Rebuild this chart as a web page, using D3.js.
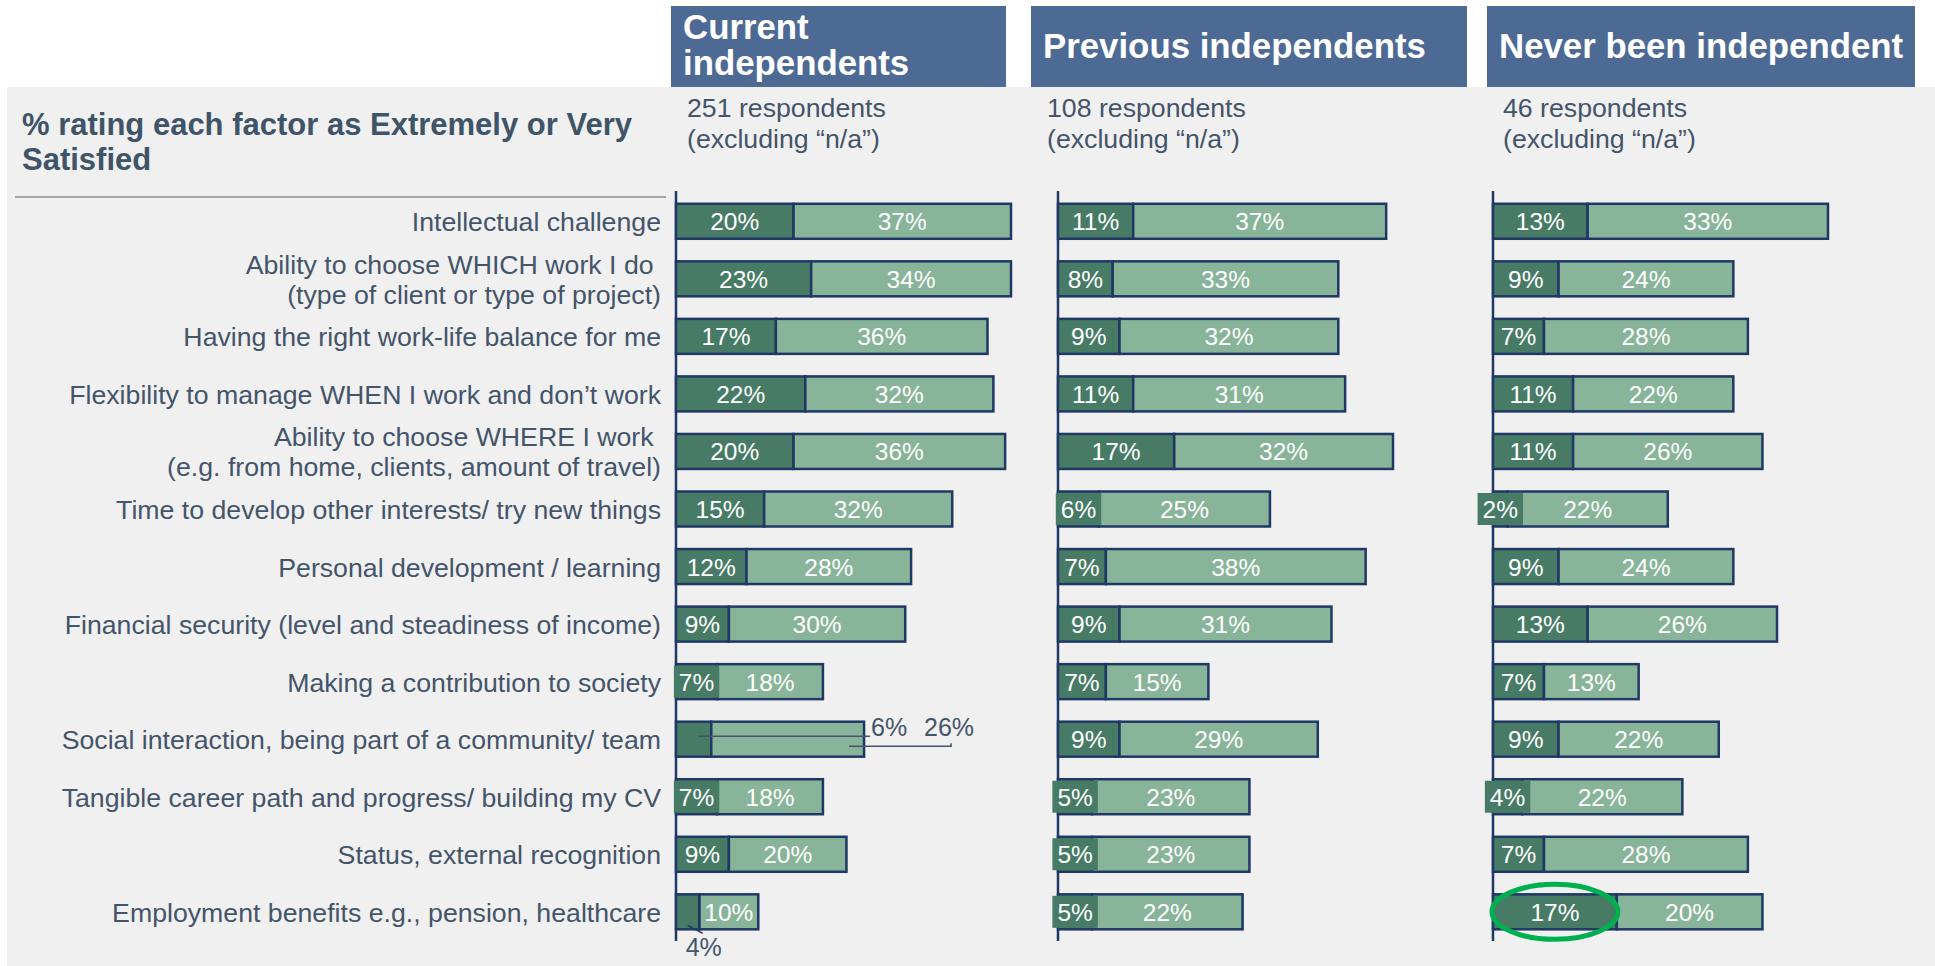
<!DOCTYPE html>
<html>
<head>
<meta charset="utf-8">
<script src="https://cdn.jsdelivr.net/npm/d3@7"></script>
<style>
  body { margin: 0; background: #fff; }
  text { font-family: "Liberation Sans", Arial, sans-serif; }
</style>
</head>
<body>
<svg id="chart"></svg>
<script>
// Data
// ===========================
var categories = [
  "Intellectual challenge",
  "Ability to choose WHICH work I do \n(type of client or type of project)",
  "Having the right work-life balance for me",
  "Flexibility to manage WHEN I work and don\u2019t work",
  "Ability to choose WHERE I work \n(e.g. from home, clients, amount of travel)",
  "Time to develop other interests/ try new things",
  "Personal development / learning",
  "Financial security (level and steadiness of income)",
  "Making a contribution to society",
  "Social interaction, being part of a community/ team",
  "Tangible career path and progress/ building my CV",
  "Status, external recognition",
  "Employment benefits e.g., pension, healthcare"
];

var groups = ["Current independents", "Previous independents", "Never been independent"];
var respondents = [251, 108, 46];

// dark = Extremely satisfied, light = Very satisfied
var currentExtremely  = [20, 23, 17, 22, 20, 15, 12, 9, 7, 6, 7, 9, 4];
var currentVery       = [37, 34, 36, 32, 36, 32, 28, 30, 18, 26, 18, 20, 10];
var previousExtremely = [11, 8, 9, 11, 17, 6, 7, 9, 7, 9, 5, 5, 5];
var previousVery      = [37, 33, 32, 31, 32, 25, 38, 31, 15, 29, 23, 23, 22];
var neverExtremely    = [13, 9, 7, 11, 11, 2, 9, 13, 7, 9, 4, 7, 17];
var neverVery         = [33, 24, 28, 22, 26, 22, 24, 26, 13, 22, 22, 28, 20];

var titleLines = ["% rating each factor as Extremely or Very", "Satisfied"];

// Layout
// ===========================
var width = 1935, height = 966;
var darkGreen = "#477b65", lightGreen = "#88b49a", navy = "#1f3864";
var slate = "#44546a", headerBlue = "#4d6a94";

var panels = [
  { name: groups[0], n: respondents[0], ext: currentExtremely, very: currentVery,
    box: [671, 1006], axis: 676, lines: ["Current", "independents"] },
  { name: groups[1], n: respondents[1], ext: previousExtremely, very: previousVery,
    box: [1031, 1467], axis: 1058, lines: [groups[1]] },
  { name: groups[2], n: respondents[2], ext: neverExtremely, very: neverVery,
    box: [1487, 1915], axis: 1493, lines: [groups[2]] }
];

var svg = d3.select("#chart")
  .attr("width", width)
  .attr("height", height);

svg.append("rect").attr("width", width).attr("height", height).attr("fill", "#fff");
svg.append("rect")
  .attr("x", 7).attr("y", 87)
  .attr("width", width - 7).attr("height", height - 87)
  .attr("fill", "#f0f0f0");

// Title + divider
svg.append("text")
  .attr("x", 22).attr("y", 135)
  .attr("font-size", 31).attr("font-weight", "bold")
  .attr("fill", "#3f5468")
  .selectAll("tspan").data(titleLines).enter().append("tspan")
  .attr("x", 22).attr("dy", (d, i) => i ? 35 : 0)
  .text(d => d);

svg.append("line")
  .attr("x1", 15).attr("x2", 666).attr("y1", 197).attr("y2", 197)
  .attr("stroke", "#a6a6a6").attr("stroke-width", 2);

// Rows
var y = d3.scaleBand()
  .domain(categories)
  .range([192.5, 940.6])
  .paddingInner(0.392)
  .paddingOuter(0.196);

var catLabels = svg.append("g").selectAll("text")
  .data(categories).enter().append("text")
  .attr("text-anchor", "end")
  .attr("font-size", 26.7)
  .attr("fill", slate);

catLabels.each(function(d) {
  var lines = d.split("\n");
  var cy = y(d) + y.bandwidth() / 2;
  var t = d3.select(this);
  lines.forEach(function(line, i) {
    t.append("tspan")
      .attr("x", 661)
      .attr("y", cy + 10 + (i - (lines.length - 1) / 2) * 30)
      .text(line);
  });
});

// Panels
panels.forEach(function(p, pi) {
  var g = svg.append("g");
  var totals = p.ext.map((v, i) => v + p.very[i]);
  var x = d3.scaleLinear()
    .domain([0, d3.max(totals)])
    .range([p.axis, p.axis + 335]);

  // header box
  g.append("rect")
    .attr("x", p.box[0]).attr("y", 6)
    .attr("width", p.box[1] - p.box[0]).attr("height", 81)
    .attr("fill", headerBlue);

  var hdr = g.append("text")
    .attr("font-size", 34.8).attr("font-weight", "bold").attr("fill", "#fff");
  p.lines.forEach(function(line, i) {
    hdr.append("tspan")
      .attr("x", p.box[0] + 12)
      .attr("y", p.lines.length > 1 ? 39 + i * 36 : 58)
      .text(line);
  });

  // respondents
  g.append("text")
    .attr("font-size", 26.7).attr("fill", slate)
    .selectAll("tspan")
    .data([p.n + " respondents", "(excluding \u201cn/a\u201d)"])
    .enter().append("tspan")
    .attr("x", p.box[0] + 16)
    .attr("y", (d, i) => 117 + i * 31)
    .text(d => d);

  // axis line
  g.append("line")
    .attr("x1", p.axis).attr("x2", p.axis)
    .attr("y1", 191).attr("y2", 941)
    .attr("stroke", navy).attr("stroke-width", 2.5);

  var rows = categories.map((c, i) => ({ cat: c, i: i, ext: p.ext[i], very: p.very[i] }));

  // bars
  var barG = g.append("g");
  barG.selectAll("rect.ext").data(rows).enter().append("rect")
    .attr("class", "ext")
    .attr("x", x(0))
    .attr("y", d => y(d.cat))
    .attr("width", d => x(d.ext) - x(0))
    .attr("height", y.bandwidth())
    .attr("fill", darkGreen)
    .attr("stroke", navy).attr("stroke-width", 2.5);

  barG.selectAll("rect.very").data(rows).enter().append("rect")
    .attr("class", "very")
    .attr("x", d => x(d.ext))
    .attr("y", d => y(d.cat))
    .attr("width", d => x(d.ext + d.very) - x(d.ext))
    .attr("height", y.bandwidth())
    .attr("fill", lightGreen)
    .attr("stroke", navy).attr("stroke-width", 2.5);

  // labels
  var labG = g.append("g");
  rows.forEach(function(d) {
    var cy = y(d.cat) + y.bandwidth() / 2;
    var xE = (x(0) + x(d.ext)) / 2;
    var xV = (x(d.ext) + x(d.ext + d.very)) / 2;

    // callouts in the first panel where the labels sit outside
    if (pi === 0 && d.i === 9) {
      var barEnd = x(d.ext + d.very);
      labG.append("path")
        .attr("d", `M${xE + 4},${cy - 3}H${barEnd + 6}`)
        .attr("stroke", slate).attr("stroke-width", 1.5).attr("fill", "none");
      labG.append("path")
        .attr("d", `M${barEnd - 15},${cy + 7}H${barEnd + 87}V${cy + 4}`)
        .attr("stroke", slate).attr("stroke-width", 1.5).attr("fill", "none");
      labG.append("text").attr("x", barEnd + 7).attr("y", cy - 3)
        .attr("font-size", 25).attr("fill", slate).text(d.ext + "%");
      labG.append("text").attr("x", barEnd + 60).attr("y", cy - 3)
        .attr("font-size", 25).attr("fill", slate).text(d.very + "%");
      return;
    }

    if (pi === 0 && d.i === 12) {
      var bottom = y(d.cat) + y.bandwidth();
      labG.append("path")
        .attr("d", `M${xE},${bottom - 4}L${xE + 15},${bottom + 4}`)
        .attr("stroke", navy).attr("stroke-width", 1.5);
      labG.append("text").attr("x", xE + 16).attr("y", bottom + 27)
        .attr("text-anchor", "middle")
        .attr("font-size", 25).attr("fill", slate).text(d.ext + "%");
    } else {
      var t = labG.append("text").attr("x", xE).attr("y", cy + 9)
        .attr("text-anchor", "middle")
        .attr("font-size", 24.5).attr("fill", "#fff").text(d.ext + "%");
      var tw = t.node().getComputedTextLength();
      var segW = x(d.ext) - x(0);
      if (tw + 8 > segW) {
        labG.insert("rect", function() { return t.node(); })
          .attr("x", xE - tw / 2 - 5).attr("y", cy - 16)
          .attr("width", tw + 10).attr("height", 32)
          .attr("fill", darkGreen);
      }
    }

    labG.append("text").attr("x", xV).attr("y", cy + 9)
      .attr("text-anchor", "middle")
      .attr("font-size", 24.5).attr("fill", "#fff").text(d.very + "%");
  });

  // highlight ring on the last row of the last panel
  if (pi === 2) {
    var last = rows[rows.length - 1];
    var cyL = y(last.cat) + y.bandwidth() / 2;
    g.append("ellipse")
      .attr("cx", (x(0) + x(last.ext)) / 2)
      .attr("cy", cyL)
      .attr("rx", (x(last.ext) - x(0)) / 2 + 1)
      .attr("ry", y.bandwidth() / 2 + 10)
      .attr("fill", "none")
      .attr("stroke", "#00b050").attr("stroke-width", 5);
  }
});
</script>
</body>
</html>
